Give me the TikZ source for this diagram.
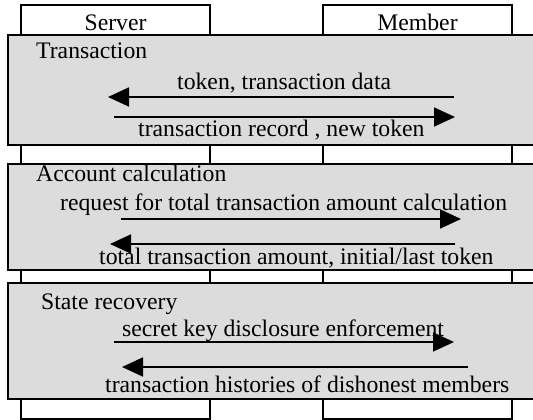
\documentclass[tikz,border=0pt]{standalone}
\usepackage{fontspec}
\setmainfont{Liberation Serif}
\usetikzlibrary{arrows.meta}

\definecolor{phasegray}{RGB}{220,220,220}
\tikzset{
  lane/.style={draw, line width=1.8pt},
  phase/.style={fill=phasegray, draw, line width=1.8pt},
  lbl/.style={anchor=base west, inner sep=0pt, font=\fontsize{23.7}{28}\selectfont},
  msg/.style={line width=1.8pt, -{Triangle[length=21pt,width=19pt]}},
}

\begin{document}
\begin{tikzpicture}[x=1pt,y=-1pt]
				\useasboundingbox (0,0) rectangle (533,420);
				% the two parties
				\draw[lane] (21,5) rectangle (210,419);
				\draw[lane] (323,5) rectangle (512,419);
				\node[lbl, anchor=base] (server) at (115.5,31) {Server};
				\node[lbl, anchor=base] (member) at (417.5,31) {Member};
				% phases
				\draw[phase] (8,35) rectangle (545,145);
				\draw[phase] (8,164) rectangle (545,270);
				\draw[phase] (8,283) rectangle (545,399);
				% transaction
				\node[lbl] (trans) at (36,59) {Transaction};
				\coordinate (m1a) at (454,97);
				\coordinate (m1b) at (108,97);
				\coordinate (m2a) at (114,117);
				\coordinate (m2b) at (455,117);
				\draw[msg] (m1a) -- (m1b);
				\draw[msg] (m2a) -- (m2b);
				\node[lbl] (tokdata) at (177,89) {token, transaction data};
				\node[lbl] (record) at (138,136) {transaction record , new token};
				% account calculation
				\node[lbl] (account) at (36,181) {Account calculation};
				\coordinate (m3a) at (121,219);
				\coordinate (m3b) at (461,219);
				\coordinate (m4a) at (455,244);
				\coordinate (m4b) at (110,244);
				\node[lbl] (request) at (60,210) {request for total transaction amount calculation};
				\node[lbl] (total) at (99,264) {total transaction amount, initial/last token};
				\draw[msg] (m3a) -- (m3b);
				\draw[msg] (m4a) -- (m4b);
				% state recovery
				\node[lbl] (state) at (41,309) {State recovery};
				\coordinate (m5a) at (114,342);
				\coordinate (m5b) at (454,342);
				\coordinate (m6a) at (468,367);
				\coordinate (m6b) at (122,367);
				\node[lbl] (secret) at (122,336) {secret key disclosure enforcement};
				\node[lbl] (history) at (105,392) {transaction histories of dishonest members};
				\draw[msg] (m5a) -- (m5b);
				\draw[msg] (m6a) -- (m6b);
		\end{tikzpicture}
\end{document}
